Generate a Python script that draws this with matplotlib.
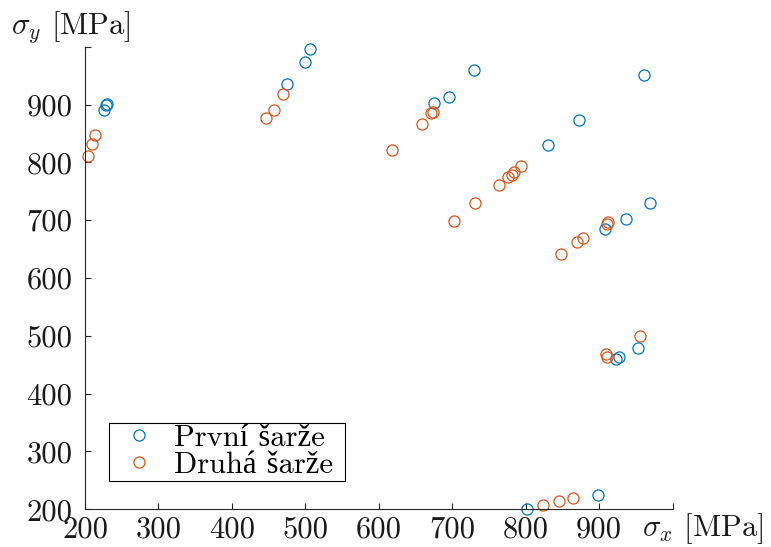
import numpy as np
import matplotlib.pyplot as plt

plt.rcParams['font.family'] = ['cmr10', 'Liberation Serif']
plt.rcParams['mathtext.fontset'] = 'cm'
plt.rcParams['axes.unicode_minus'] = False

# data
x_prvni = [226.3, 228.3, 229.6, 474.6, 499.6, 506.0, 675.2, 695.2, 729.7, 830.5,
           872.7, 961.4, 908.1, 936.3, 968.9, 923.1, 927.1, 952.6, 802.3, 899.0]
y_prvni = [890.3, 898.5, 901.0, 935.8, 974.4, 995.2, 902.4, 913.8, 960.5, 830.3,
           874.0, 950.2, 684.9, 702.2, 729.4, 460.0, 464.0, 479.6, 201.0, 224.2]

x_druha = [204.1, 209.5, 214.0, 446.0, 457.0, 469.2, 618.4, 658.9, 670.7, 673.4,
           702.9, 731.5, 763.3, 776.4, 781.0, 784.2, 794.1, 848.1, 869.5, 877.7,
           910.4, 912.6, 909.8, 910.8, 955.3, 823.6, 845.8, 864.5]
y_druha = [811.2, 831.5, 847.6, 877.0, 891.3, 918.5, 821.6, 866.6, 885.6, 887.4,
           699.3, 729.4, 761.6, 775.4, 777.9, 783.6, 793.4, 642.2, 662.5, 669.4,
           694.1, 697.1, 468.2, 463.0, 500.3, 207.4, 214.4, 219.5]

ticks = np.arange(200, 1001, 100)
tick_labels = [str(t) for t in ticks[:-1]] + ['']

W, H = 771, 547
fig = plt.figure(figsize=(W / 100, H / 100), dpi=100)
ax = fig.add_axes([85 / W, (H - 509.3) / H, 587.5 / W, 462.6 / H])

ax.plot(x_prvni, y_prvni, 'o', mfc='none', mec='#0072BD', ms=8, mew=0.9,
        clip_on=False, label='První šarže ')
ax.plot(x_druha, y_druha, 'o', mfc='none', mec='#D95319', ms=8, mew=0.9,
        clip_on=False, label='Druhá šarže ')

ax.set_xlim(200, 1000)
ax.set_ylim(200, 1000)
ax.set_xticks(ticks)
ax.set_xticklabels(tick_labels)
ax.set_yticks(ticks)
ax.set_yticklabels(tick_labels)

for s in ['top', 'right']:
    ax.spines[s].set_visible(False)
for s in ['left', 'bottom']:
    ax.spines[s].set_color('#262626')
    ax.spines[s].set_linewidth(0.8)
ax.tick_params(direction='in', length=4.5, width=0.8, color='#262626',
               labelsize=22, labelcolor='#1a1a1a')
ax.tick_params(axis='x', pad=5)
ax.tick_params(axis='y', pad=9)

leg = ax.legend(loc='lower left', bbox_to_anchor=(0.040, 0.062), borderaxespad=0,
                fontsize=22, frameon=True, fancybox=False, edgecolor='black',
                handletextpad=0.2, borderpad=0.05, labelspacing=0.0,
                handlelength=1.9, framealpha=1)
leg.get_frame().set_linewidth(0.8)

fig.text(11 / W, 1 - 34 / H, r'$\sigma_y$ [MPa]', fontsize=22, va='baseline',
         ha='left', color='#1a1a1a')
fig.text(642 / W, 1 - 536 / H, r'$\sigma_x$ [MPa]', fontsize=22, va='baseline',
         ha='left', color='#1a1a1a')

fig.savefig('out.png', dpi=100)
